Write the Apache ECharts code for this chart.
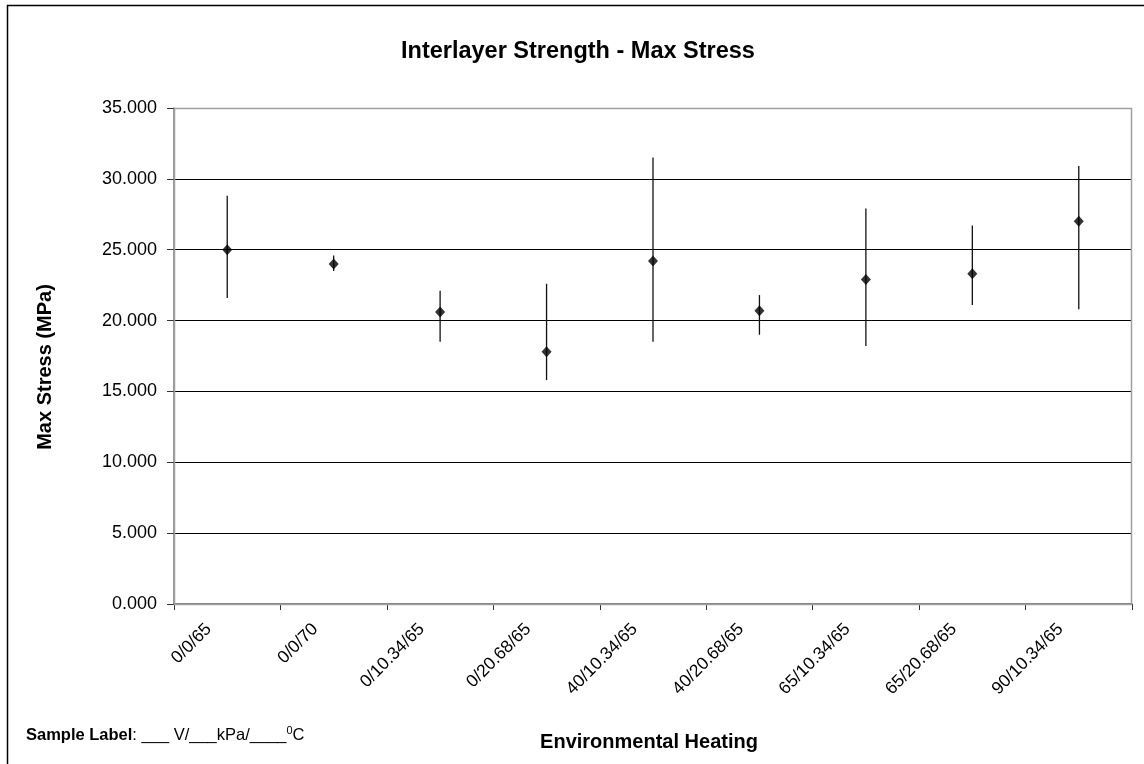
<!DOCTYPE html>
<html>
<head>
<meta charset="utf-8">
<script src="https://cdn.jsdelivr.net/npm/echarts@6/dist/echarts.min.js"></script>
<style>
  html, body { margin: 0; padding: 0; background: #fff; }
  #chart { width: 1144px; height: 764px; }
</style>
</head>
<body>
<div id="chart"></div>
<script>
// Test conditions (V / kPa / °C)
const categories = ['0/0/65', '0/0/70', '0/10.34/65', '0/20.68/65', '40/10.34/65',
                    '40/20.68/65', '65/10.34/65', '65/20.68/65', '90/10.34/65'];
// Mean max stress (MPa)
const meanStress = [25.0, 24.0, 20.6, 17.8, 24.2, 20.7, 22.9, 23.3, 27.0];
// Error bar extents (MPa)
const upperStress = [28.8, 24.6, 22.1, 22.6, 31.5, 21.8, 27.9, 26.7, 30.9];
const lowerStress = [21.6, 23.5, 18.5, 15.8, 18.5, 19.0, 18.2, 21.1, 20.8];
const yTicks = [0, 5, 10, 15, 20, 25, 30, 35];

const FONT = '"Liberation Sans", Arial, sans-serif';

const chart = echarts.init(document.getElementById('chart'), null, { renderer: 'canvas' });

const errorData = categories.map((c, i) => [i, lowerStress[i], upperStress[i]]);

chart.setOption({
  animation: false,
  backgroundColor: '#fff',
  title: {
    text: 'Interlayer Strength - Max Stress',
    left: 396,
    top: 35,
    textStyle: { fontFamily: FONT, fontSize: 23.5, fontWeight: 'bold', color: '#000' }
  },
  graphic: [
    {
      type: 'rect',
      shape: { x: 7.5, y: 5.5, width: 1150, height: 780 },
      style: { fill: 'none', stroke: '#000', lineWidth: 1.5 },
      silent: true
    },
    {
      type: 'rect',
      shape: { x: 174.5, y: 108.5, width: 957, height: 496 },
      style: { fill: 'none', stroke: '#a0a0a0', lineWidth: 1.5 },
      silent: true,
      z: 1
    },
    {
      type: 'text',
      left: 26,
      top: 725,
      style: {
        text: '{b|Sample Label}{n|: ___ V/___kPa/____}{s|0}{n|C}',
        rich: {
          b: { fontFamily: FONT, fontSize: 16.5, fontWeight: 'bold', fill: '#000', verticalAlign: 'bottom' },
          n: { fontFamily: FONT, fontSize: 16.5, fill: '#000', verticalAlign: 'bottom' },
          s: { fontFamily: FONT, fontSize: 11, fill: '#000', verticalAlign: 'top', padding: [0, 0, 8, 0] }
        }
      }
    }
  ],
  grid: { left: 174, right: 12, top: 108, bottom: 160, containLabel: false },
  xAxis: {
    type: 'category',
    data: categories,
    boundaryGap: true,
    name: 'Environmental Heating',
    nameLocation: 'middle',
    nameGap: 128,
    nameTextStyle: { fontFamily: FONT, fontSize: 20, fontWeight: 'bold', color: '#000', padding: [0, 8, 0, 0] },
    axisLine: { show: true, lineStyle: { color: '#555', width: 1.5 } },
    axisTick: { show: true, alignWithLabel: false, length: 6, inside: false, lineStyle: { color: '#333' } },
    axisLabel: {
      interval: 0,
      rotate: 45,
      margin: 4,
      fontFamily: FONT,
      fontSize: 17.5,
      color: '#000',
      padding: [0, 26, 0, 0]
    },
    splitLine: { show: false }
  },
  yAxis: {
    type: 'value',
    min: 0,
    max: 35,
    interval: 5,
    name: 'Max Stress (MPa)',
    nameLocation: 'middle',
    nameGap: 119,
    nameRotate: 90,
    nameTextStyle: { fontFamily: FONT, fontSize: 20, fontWeight: 'bold', color: '#000', padding: [0, 22, 0, 0] },
    axisLine: { show: true, lineStyle: { color: '#777', width: 1.5 } },
    axisTick: { show: true, length: 7, lineStyle: { color: '#333' } },
    axisLabel: {
      margin: 17,
      fontFamily: FONT,
      fontSize: 18,
      color: '#000',
      formatter: v => (yTicks.indexOf(v) >= 0 ? v.toFixed(3) : '')
    },
    splitLine: {
      show: true,
      showMinLine: false,
      showMaxLine: false,
      lineStyle: { color: '#000', width: 1 }
    }
  },
  series: [
    {
      name: 'Range',
      type: 'custom',
      data: errorData,
      z: 2,
      renderItem: (params, api) => {
        const x = api.value(0);
        const lo = api.coord([x, api.value(1)]);
        const hi = api.coord([x, api.value(2)]);
        return {
          type: 'line',
          shape: { x1: lo[0], y1: lo[1], x2: hi[0], y2: hi[1] },
          style: { stroke: '#111', lineWidth: 1.3 }
        };
      },
      encode: { x: 0, y: [1, 2] }
    },
    {
      name: 'Max Stress',
      type: 'scatter',
      data: meanStress,
      symbol: 'diamond',
      symbolSize: [10, 11],
      itemStyle: { color: '#000' },
      z: 3
    }
  ]
});
</script>
</body>
</html>
